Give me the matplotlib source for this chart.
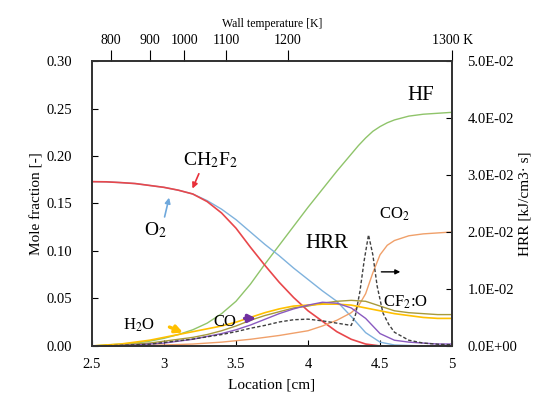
import numpy as np
import matplotlib.pyplot as plt

plt.rcParams['font.family'] = ['Liberation Serif', 'DejaVu Serif']
plt.rcParams['mathtext.fontset'] = 'stix'

# location [cm]
loc = [2.5, 2.6, 2.7, 2.8, 2.9, 3.0, 3.1, 3.2, 3.3, 3.4, 3.5, 3.6, 3.7, 3.8,
       3.9, 4.0, 4.1, 4.2, 4.3, 4.4, 4.5, 4.6, 4.7, 4.8, 4.9, 5.0]

ch2f2 = [0.173, 0.1728, 0.172, 0.171, 0.169, 0.167, 0.164, 0.160, 0.152, 0.140,
         0.124, 0.104, 0.085, 0.067, 0.051, 0.037, 0.026, 0.015, 0.007, 0.002,
         0.0, 0.0, 0.0, 0.0, 0.0, 0.0]
o2 = [0.173, 0.1728, 0.172, 0.171, 0.169, 0.167, 0.164, 0.160, 0.153, 0.144,
      0.133, 0.120, 0.107, 0.095, 0.082, 0.070, 0.058, 0.047, 0.031, 0.014,
      0.004, 0.001, 0.0005, 0.0, 0.0, 0.0]
h2o = [0.0, 0.001, 0.002, 0.004, 0.006, 0.009, 0.012, 0.015, 0.018, 0.021,
       0.025, 0.030, 0.035, 0.039, 0.042, 0.043, 0.044, 0.044, 0.043, 0.040,
       0.037, 0.034, 0.032, 0.030, 0.029, 0.029]
cf2o = [0.0, 0.0005, 0.001, 0.002, 0.003, 0.005, 0.007, 0.009, 0.012, 0.016,
        0.021, 0.027, 0.032, 0.036, 0.040, 0.042, 0.045, 0.047, 0.048, 0.047,
        0.042, 0.037, 0.035, 0.034, 0.033, 0.033]
co = [0.0, 0.0, 0.0005, 0.001, 0.002, 0.003, 0.005, 0.007, 0.010, 0.013,
      0.017, 0.022, 0.028, 0.034, 0.039, 0.043, 0.046, 0.045, 0.040, 0.029,
      0.013, 0.006, 0.004, 0.003, 0.002, 0.002]

loc_hf = [2.5, 2.6, 2.7, 2.8, 2.9, 3.0, 3.1, 3.2, 3.3, 3.4, 3.5, 3.6, 3.7,
          3.8, 3.9, 4.0, 4.1, 4.2, 4.3, 4.35, 4.4, 4.45, 4.5, 4.55, 4.6, 4.7,
          4.8, 4.9, 5.0]
hf = [0.0, 0.001, 0.002, 0.003, 0.005, 0.008, 0.012, 0.017, 0.024, 0.034,
      0.047, 0.065, 0.086, 0.106, 0.126, 0.146, 0.165, 0.184, 0.202, 0.211,
      0.219, 0.226, 0.231, 0.235, 0.238, 0.242, 0.244, 0.245, 0.246]

loc_co2 = [2.5, 2.8, 3.0, 3.2, 3.4, 3.6, 3.8, 4.0, 4.1, 4.2, 4.3, 4.35, 4.4,
           4.45, 4.5, 4.55, 4.6, 4.7, 4.8, 4.9, 5.0]
co2 = [0.0, 0.0005, 0.001, 0.002, 0.004, 0.007, 0.011, 0.016, 0.021, 0.027,
       0.035, 0.042, 0.055, 0.077, 0.096, 0.106, 0.111, 0.116, 0.118, 0.119,
       0.120]

loc_hrr = [2.5, 2.7, 2.9, 3.0, 3.1, 3.2, 3.3, 3.4, 3.5, 3.6, 3.7, 3.8, 3.9,
           4.0, 4.1, 4.2, 4.3, 4.33, 4.36, 4.39, 4.42, 4.45, 4.48, 4.52, 4.56,
           4.6, 4.7, 4.8, 4.9, 5.0]
hrr = [0.0, 0.0001, 0.0003, 0.0006, 0.0009, 0.0012, 0.0016, 0.0020, 0.0025,
       0.0031, 0.0036, 0.0042, 0.0046, 0.0047, 0.0044, 0.0040, 0.0036, 0.0055,
       0.0095, 0.0150, 0.0195, 0.0160, 0.0105, 0.0058, 0.0038, 0.0024, 0.0010,
       0.0005, 0.0003, 0.0002]

# wall temperature ticks (top axis)
temp_pos = [2.63, 2.90, 3.14, 3.43, 3.86, 5.0]
temp_lab = ['800', '900', '1000', '1100', '1200', '1300 K']

fig = plt.figure(figsize=(5.44, 3.99), dpi=100)
ax = fig.add_axes([0.169, 0.133, 0.662, 0.714])

ax.plot(loc_hf, hf, color='#8FC46A', lw=1.0)
ax.plot(loc, o2, color='#7FB2DD', lw=1.0)
ax.plot(loc, ch2f2, color='#E8474B', lw=1.2)
ax.plot(loc_co2, co2, color='#F0A06A', lw=1.0)
ax.plot(loc, cf2o, color='#A89A3A', lw=1.0)
ax.plot(loc, h2o, color='#FFC000', lw=1.2)
ax.plot(loc, co, color='#8A5AC0', lw=1.0)

ax.set_xlim(2.5, 5)
ax.set_ylim(0, 0.30)
ax.set_xticks([2.5, 3, 3.5, 4, 4.5, 5])
ax.set_xticklabels(['2.5', '3', '3.5', '4', '4.5', '5'])
ax.set_yticks(np.arange(0, 0.31, 0.05))
ax.set_yticklabels(['%.2f' % v for v in np.arange(0, 0.31, 0.05)])
ax.tick_params(direction='in', labelsize=10.5, length=4)
ax.tick_params(axis='x', pad=9)
ax.tick_params(axis='y', pad=14)
ax.set_xlabel('Location [cm]', fontsize=11, labelpad=5)
ax.set_ylabel('Mole fraction [-]', fontsize=11, labelpad=2)

ax2 = ax.twinx()
ax2.plot(loc_hrr, hrr, color='#404040', lw=1.0, ls=(0, (2.5, 1.5)))
ax2.set_ylim(0, 0.05)
ax2.set_yticks(np.arange(0, 0.051, 0.01))
ax2.set_yticklabels(['%.1E' % v for v in np.arange(0, 0.051, 0.01)])
ax2.tick_params(direction='in', labelsize=10.5, length=4, pad=11)
ax2.set_ylabel('HRR [kJ/cm3· s]', fontsize=11, labelpad=1)

ax3 = ax.twiny()
ax3.set_xlim(2.5, 5)
ax3.set_xticks(temp_pos)
ax3.set_xticklabels(temp_lab)
ax3.tick_params(direction='out', labelsize=10, length=8, pad=2)
ax3.set_xlabel('Wall temperature [K]', fontsize=8.5, labelpad=5)

for a in (ax, ax2, ax3):
    for s in a.spines.values():
        s.set_color('#333333')
        s.set_linewidth(1.1)

ax.text(4.78, 0.264, 'HF', fontsize=15, ha='center', va='center')
ax.text(3.32, 0.196, r'CH$_2$F$_2$', fontsize=14, ha='center', va='center')
ax.text(2.94, 0.122, r'O$_2$', fontsize=14, ha='center', va='center')
ax.text(2.83, 0.022, r'H$_2$O', fontsize=12, ha='center', va='center')
ax.text(3.42, 0.025, 'CO', fontsize=12, ha='center', va='center')
ax.text(4.13, 0.108, 'HRR', fontsize=15, ha='center', va='center')
ax.text(4.6, 0.139, r'CO$_2$', fontsize=12, ha='center', va='center')
ax.text(4.68, 0.046, r'CF$_2$:O', fontsize=12, ha='center', va='center')

ax.annotate('', xy=(3.19, 0.163), xytext=(3.25, 0.184),
            arrowprops=dict(arrowstyle='-|>', color='#E8303A', lw=1.2, mutation_scale=8))
ax.annotate('', xy=(3.04, 0.159), xytext=(3.0, 0.133),
            arrowprops=dict(arrowstyle='-|>', color='#6FA8DC', lw=1.2, mutation_scale=8))
ax.annotate('', xy=(3.15, 0.013), xytext=(3.02, 0.021),
            arrowprops=dict(arrowstyle='-|>', color='#FFC000', lw=2.4, mutation_scale=11))
ax.annotate('', xy=(3.66, 0.029), xytext=(3.54, 0.029),
            arrowprops=dict(arrowstyle='-|>', color='#7030A0', lw=2.4, mutation_scale=11))
ax.annotate('', xy=(4.66, 0.078), xytext=(4.49, 0.078),
            arrowprops=dict(arrowstyle='-|>', color='black', lw=1.0, mutation_scale=7))

plt.savefig('out.png', dpi=100)
